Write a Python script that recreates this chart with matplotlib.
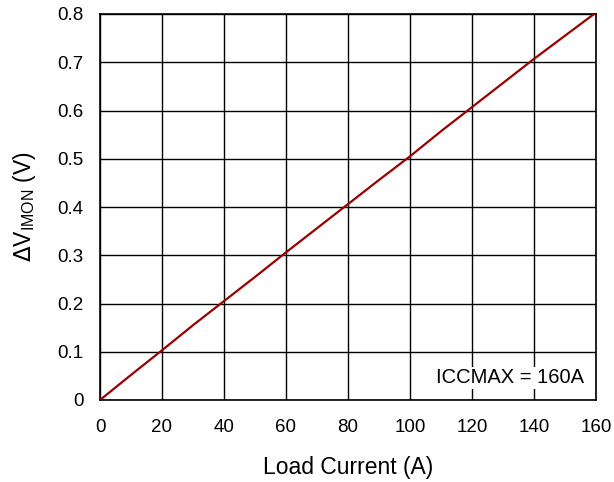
import matplotlib.pyplot as plt

plt.rcParams['font.family'] = ['Liberation Sans', 'DejaVu Sans']

# data
current = [0, 10, 20, 30, 40, 50, 60, 70, 80, 90, 100, 110, 120, 130, 140, 150, 160]
dv_imon = [0, 0.052, 0.103, 0.155, 0.205, 0.255, 0.306, 0.356, 0.406, 0.456, 0.505, 0.557, 0.607, 0.657, 0.707, 0.755, 0.803]

fig = plt.figure(figsize=(6.14, 4.82), dpi=100)
ax = fig.add_axes([100 / 614, 82 / 482, 496 / 614, 386 / 482])

ax.plot(current, dv_imon, color='#990000', linewidth=1.6, zorder=3)
ax.set_xlim(0, 160)
ax.set_ylim(0, 0.8)
ax.set_xticks(range(0, 161, 20))
ax.set_yticks([i / 10 for i in range(9)])
ax.set_yticklabels(['0'] + ['%.1f' % (i / 10) for i in range(1, 9)])
ax.grid(True, color='black', linewidth=1)
ax.tick_params(length=0, labelsize=13.5)
ax.tick_params(axis='x', pad=14)
ax.tick_params(axis='y', pad=12)
for s in ax.spines.values():
    s.set_linewidth(1.2)

ax.set_xlabel('Load Current (A)', fontsize=16.5, labelpad=14)
ax.set_ylabel(r'$\Delta$V$_{\mathregular{IMON}}$ (V)', fontsize=16.5, labelpad=14)

ax.text(0.975, 0.057, 'ICCMAX = 160A', transform=ax.transAxes, ha='right', va='center',
        fontsize=14.5, zorder=4,
        bbox=dict(facecolor='white', edgecolor='none', pad=1))

fig.savefig('out.png', dpi=100)
